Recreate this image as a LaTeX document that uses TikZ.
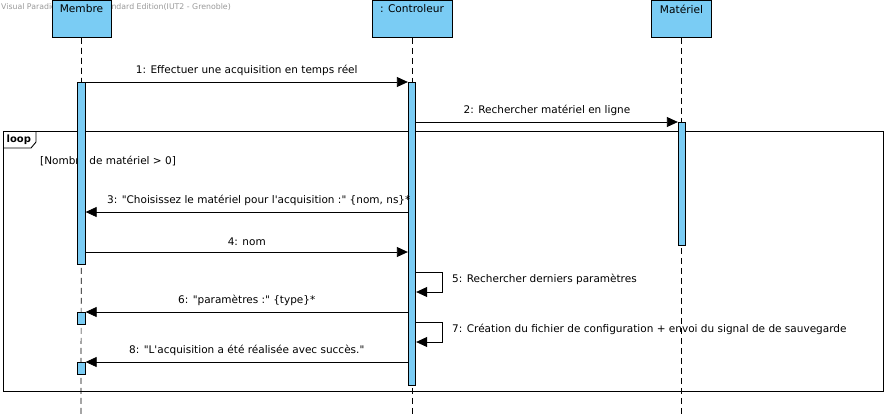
\documentclass[tikz,border=0pt]{standalone}
\usepackage{fontspec}
\setmainfont{DejaVu Sans}[Ligatures=TeXOff]
\usetikzlibrary{arrows.meta}
\definecolor{vpblue}{RGB}{122,204,244}
\tikzset{
  head/.style={draw, fill=vpblue, line width=0.9pt, minimum width=59pt, minimum height=37pt, anchor=north, inner sep=0pt},
  headtxt/.style={font=\fontsize{10.6}{12}\selectfont, inner sep=0pt},
  act/.style={draw, fill=vpblue, line width=0.8pt, minimum width=7.5pt, anchor=north, inner sep=0pt},
  life/.style={dashed, dash pattern=on 6pt off 4pt, line width=0.7pt},
  msg/.style={line width=0.8pt, -{Triangle[length=11pt,width=10pt]}},
  lbl/.style={font=\fontsize{10.5}{12}\selectfont, inner sep=0pt},
  frame/.style={line width=0.9pt}
}
\begin{document}
\begin{tikzpicture}[x=1pt,y=-1pt]
\useasboundingbox (0,0) rectangle (886,416);
% watermark
\node[anchor=west, text=black!40, font=\fontsize{7.8}{9}\selectfont, inner sep=0pt] (wm) at (1,7) {Visual Paradigm for UML Standard Edition(IUT2 - Grenoble)};
% lifelines
\coordinate (eM) at (81,416);
\coordinate (eC) at (412,416);
\coordinate (eT) at (681.5,416);
\node[head] (hM) at (81.5,0) {};
\node[head, minimum width=80pt] (hC) at (412,0) {};
\node[head, minimum width=60pt] (hT) at (681.5,0) {};
\node[headtxt] (tM) at (81.5,9) {Membre};
\node[headtxt] (tC) at (412,9) {: Controleur};
\node[headtxt] (tT) at (681.5,9) {Matériel};
\draw[life] (hM.south) -- (eM);
\draw[life] (hC.south) -- (eC);
\draw[life] (hT.south) -- (eT);
% loop frame
\node[draw, frame, minimum width=880pt, minimum height=260pt, anchor=north west, inner sep=0pt] (loop) at (3,131) {};
\coordinate (lt1) at (3,148);
\coordinate (lt2) at (31,148);
\coordinate (lt3) at (36,142);
\coordinate (lt4) at (36,131);
\draw[frame] (lt1) -- (lt2) -- (lt3) -- (lt4);
\node[anchor=west, font=\bfseries\fontsize{10}{12}\selectfont, inner sep=0pt] (looptxt) at (6.5,139.5) {loop};
\node[lbl, anchor=west] (guard) at (40,161) {[Nombre de matériel > 0]};
% activations
\node[act, minimum height=182pt] (aM) at (81.5,82) {};
\node[act, minimum height=303pt] (aC) at (412,82) {};
\node[act, minimum height=123pt] (aT) at (682,122) {};
\node[act, minimum height=12pt] (aM2) at (81.5,312) {};
\node[act, minimum height=12pt] (aM3) at (81.5,362) {};
% messages
\draw[msg] (aM.east |- 0,82) -- node[lbl, above=6pt] (m1) {1: Effectuer une acquisition en temps réel} (aC.west |- 0,82);
\draw[msg] (aC.east |- 0,122) -- node[lbl, above=6pt] (m2) {2: Rechercher matériel en ligne} (aT.west |- 0,122);
\draw[msg] (aC.west |- 0,212) -- node[lbl, above=6pt, xshift=12pt] (m3) {3: "Choisissez le matériel pour l'acquisition :" \{nom, ns\}*} (aM.east |- 0,212);
\draw[msg] (aM.east |- 0,252) -- node[lbl, above=6pt] (m4) {4: nom} (aC.west |- 0,252);
\coordinate (s5a) at (442,272);
\coordinate (s5b) at (442,292);
\draw[msg] (aC.east |- 0,272) -- (s5a) -- (s5b) -- (aC.east |- 0,292);
\node[lbl, anchor=west] (m5) at (452,279) {5: Rechercher derniers paramètres};
\draw[msg] (aC.west |- aM2.north east) -- node[lbl, above=6pt] (m6) {6: "paramètres :" \{type\}*} (aM2.north east);
\coordinate (s7a) at (442,322);
\coordinate (s7b) at (442,342);
\draw[msg] (aC.east |- 0,322) -- (s7a) -- (s7b) -- (aC.east |- 0,342);
\node[lbl, anchor=west] (m7) at (452,329) {7: Création du fichier de configuration + envoi du signal de de sauvegarde};
\draw[msg] (aC.west |- aM3.north east) -- node[lbl, above=6pt] (m8) {8: "L'acquisition a été réalisée avec succès."} (aM3.north east);
\end{tikzpicture}
\end{document}
